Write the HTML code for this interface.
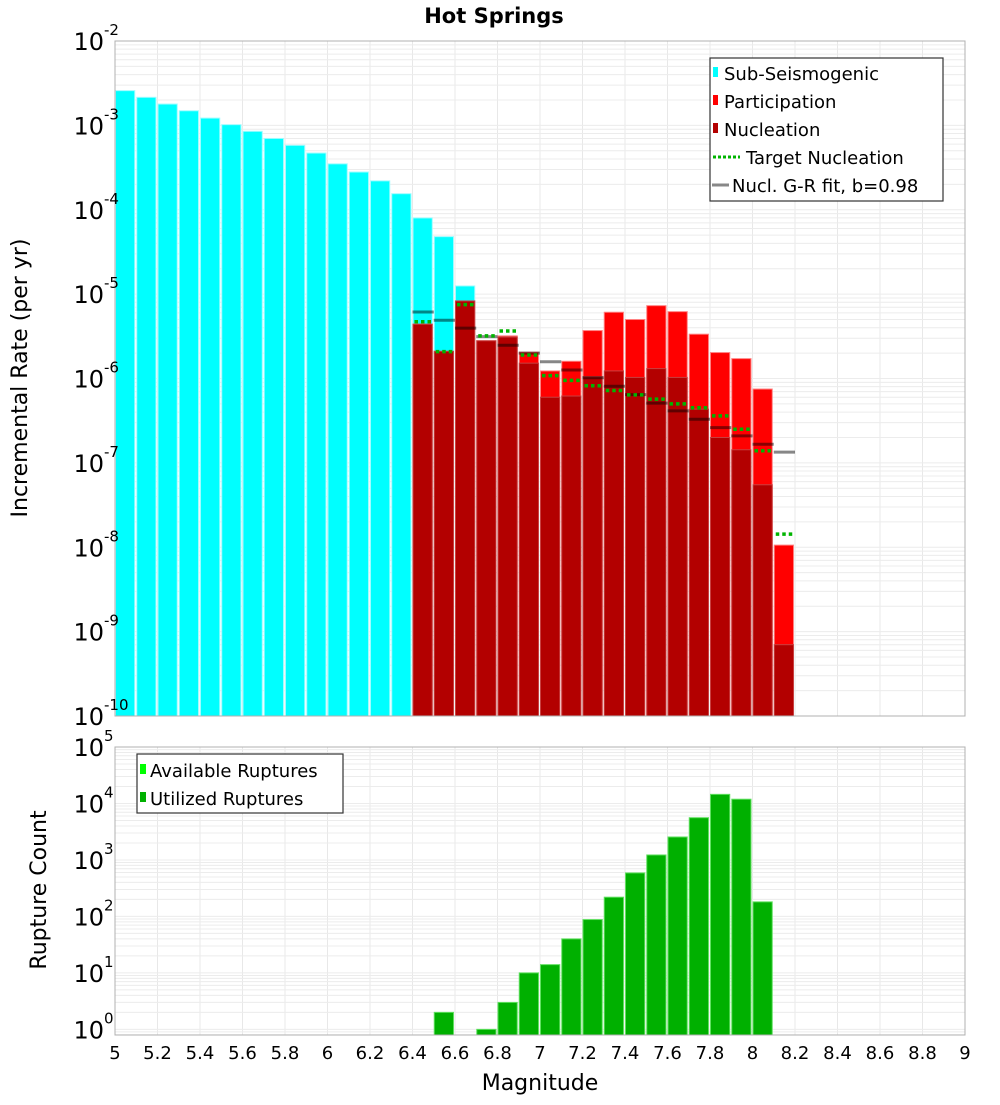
<!DOCTYPE html>
<html><head><meta charset="utf-8"><style>
body{margin:0;background:#fff;}
svg text{font-family:"DejaVu Sans","Liberation Sans",sans-serif;fill:#000;}
</style></head><body>
<svg id="chart" width="1000" height="1100" viewBox="0 0 1000 1100" xmlns="http://www.w3.org/2000/svg">
<rect width="1000" height="1100" fill="#fff"/>
<text x="494" y="23" text-anchor="middle" font-size="21" font-weight="bold">Hot Springs</text>
<g id="top-grid"></g><g id="top-bars"></g><g id="top-lines"></g>
<rect x="115" y="41" width="850" height="675" fill="none" stroke="#b0b0b0" stroke-width="1"/>
<g id="bot-grid"></g><g id="bot-bars"></g>
<rect x="115" y="747" width="850" height="288" fill="none" stroke="#b0b0b0" stroke-width="1"/>
<g id="axes-text"></g>
<text transform="translate(27,378) rotate(-90)" text-anchor="middle" font-size="22">Incremental Rate (per yr)</text>
<text transform="translate(46,890) rotate(-90)" text-anchor="middle" font-size="22">Rupture Count</text>
<text x="540" y="1090" text-anchor="middle" font-size="22">Magnitude</text>
<g>
<rect x="710" y="58" width="233" height="143" fill="#fff" stroke="#333" stroke-width="1.2"/>
<rect x="713" y="67" width="5" height="10" fill="#00ffff"/><text x="724" y="80" font-size="18">Sub-Seismogenic</text>
<rect x="713" y="95" width="5" height="10" fill="#ff0000"/><text x="724" y="108" font-size="18">Participation</text>
<rect x="713" y="123" width="5" height="10" fill="#b30000"/><text x="724" y="136" font-size="18">Nucleation</text>
<line x1="713" y1="157" x2="740" y2="157" stroke="#00b400" stroke-width="3" stroke-dasharray="3,2"/><text x="746" y="164" font-size="18">Target Nucleation</text>
<line x1="712" y1="185" x2="729" y2="185" stroke="#888" stroke-width="3"/><text x="732" y="192" font-size="18">Nucl. G-R fit, b=0.98</text>
</g>
<g>
<rect x="137" y="754" width="206" height="59" fill="#fff" stroke="#333" stroke-width="1.2"/>
<rect x="140" y="764" width="6" height="10" fill="#00ff00"/><text x="150" y="777" font-size="18">Available Ruptures</text>
<rect x="140" y="792" width="6" height="10" fill="#00b000"/><text x="150" y="805" font-size="18">Utilized Ruptures</text>
</g>
</svg>
<script>
const mags = [5.0,5.1,5.2,5.3,5.4,5.5,5.6,5.7,5.8,5.9,6.0,6.1,6.2,6.3,6.4,6.5,6.6,6.7,6.8,6.9,7.0,7.1,7.2,7.3,7.4,7.5,7.6,7.7,7.8,7.9,8.0,8.1];
const subSeis = [2.58e-3,2.15e-3,1.79e-3,1.49e-3,1.22e-3,1.02e-3,8.5e-4,7.0e-4,5.8e-4,4.7e-4,3.5e-4,2.8e-4,2.2e-4,1.55e-4,8.0e-5,4.8e-5,1.25e-5,0,0,0,0,0,0,0,0,0,0,0,0,0,0,0];
const participation = [0,0,0,0,0,0,0,0,0,0,0,0,0,0,4.4e-6,2.1e-6,8.3e-6,2.8e-6,3.2e-6,2.05e-6,1.23e-6,1.6e-6,3.7e-6,6.1e-6,5.0e-6,7.3e-6,6.2e-6,3.35e-6,2.03e-6,1.72e-6,7.5e-7,1.06e-8];
const nucleation = [0,0,0,0,0,0,0,0,0,0,0,0,0,0,4.4e-6,2.1e-6,8.3e-6,2.8e-6,3.1e-6,1.52e-6,6.0e-7,6.2e-7,1.05e-6,1.23e-6,1.03e-6,1.31e-6,1.03e-6,4.33e-7,2.0e-7,1.43e-7,5.5e-8,7.0e-10];
const targetNucl = [0,0,0,0,0,0,0,0,0,0,0,0,0,0,4.7e-6,2.08e-6,7.5e-6,3.2e-6,3.66e-6,1.9e-6,1.08e-6,9.5e-7,8.2e-7,7.2e-7,6.4e-7,5.7e-7,5.0e-7,4.5e-7,3.6e-7,2.5e-7,1.39e-7,1.43e-8];
const grFit = [0,0,0,0,0,0,0,0,0,0,0,0,0,0,6.15e-6,4.9e-6,3.95e-6,3.14e-6,2.48e-6,2.0e-6,1.58e-6,1.26e-6,1.02e-6,8.1e-7,6.45e-7,5.1e-7,4.13e-7,3.29e-7,2.62e-7,2.09e-7,1.66e-7,1.34e-7];
const ruptureCounts = [0,0,0,0,0,0,0,0,0,0,0,0,0,0,0,2,0,1,3,10,14,40,88,219,589,1225,2550,5600,14500,11900,181,0];
const xTicks = ["5","5.2","5.4","5.6","5.8","6","6.2","6.4","6.6","6.8","7","7.2","7.4","7.6","7.8","8","8.2","8.4","8.6","8.8","9"];
const topExps = [-2,-3,-4,-5,-6,-7,-8,-9,-10];
const botExps = [5,4,3,2,1,0];

const NS="http://www.w3.org/2000/svg";
function mk(parent,tag,attrs){const e=document.createElementNS(NS,tag);for(const k in attrs)e.setAttribute(k,attrs[k]);document.getElementById(parent).appendChild(e);return e;}
const X=m=>115+(m-5)*212.5;
const YT=v=>41+(-2-Math.log10(v))*84.375;
const YB=v=>747+(5-Math.log10(v))*(288/5.1);
const TOPB=716, BOTB=1035;

// grids
for(let i=0;i<=20;i++){const x=X(5+i*0.2);
 let l=mk('top-grid','line',{x1:x,x2:x,y1:41,y2:716,stroke:'#e8e8e8'});
 
 
 let l2=mk('bot-grid','line',{x1:x,x2:x,y1:747,y2:1035,stroke:'#e8e8e8'});
 
 }
for(let e=-10;e<-2;e++)for(let k=1;k<10;k++){const y=YT(k*Math.pow(10,e));
 let l=mk('top-grid','line',{x1:115,x2:965,y1:y,y2:y,stroke:'#ececec'});
 
 }
for(let e=-1;e<5;e++)for(let k=1;k<10;k++){const y=YB(k*Math.pow(10,e));if(y>1035||y<747)continue;
 let l=mk('bot-grid','line',{x1:115,x2:965,y1:y,y2:y,stroke:'#ececec'});
 
 }

function bar(g,m,v,Y,base,fill,stroke,name){if(!v)return;const x0=X(m)+0.5,x1=X(m+0.1)-1.5;const y=Math.max(Y(v),0);
 const r=mk(g,'rect',{x:x0,y:y,width:x1-x0,height:Math.max(base-y,0),fill:fill,stroke:stroke,'stroke-width':1});
 
 }
mags.forEach((m,i)=>bar('top-bars',m,subSeis[i],YT,TOPB,'#00ffff','#9ffcff','sub-seismogenic-bar'));
mags.forEach((m,i)=>bar('top-bars',m,participation[i],YT,TOPB,'#ff0000','#ff8080','participation-bar'));
mags.forEach((m,i)=>bar('top-bars',m,nucleation[i],YT,TOPB,'#b30000','#c84040','nucleation-bar'));
mags.forEach((m,i)=>{if(!grFit[i])return;const y=YT(grFit[i]);
 const l=mk('top-lines','line',{x1:X(m),x2:X(m+0.1),y1:y,y2:y,stroke:'rgba(0,0,0,0.47)','stroke-width':3});
 
 });
mags.forEach((m,i)=>{if(!targetNucl[i])return;const y=YT(targetNucl[i]);
 const l=mk('top-lines','line',{x1:X(m)+2,x2:X(m+0.1)-2,y1:y,y2:y,stroke:'#00b400','stroke-width':3.5,'stroke-dasharray':'3.5,3'});
 
 });
mags.forEach((m,i)=>bar('bot-bars',m,ruptureCounts[i],YB,BOTB,'#00b000','#60e060','utilized-ruptures-bar'));

// tick labels
function tick(y,exp,name){const t=mk('axes-text','text',{x:104,y:y+9,'text-anchor':'end','font-size':24});t.textContent='10';
 
 
 const s=mk('axes-text','text',{x:104,y:y-6,'font-size':15});s.textContent=String(exp);
 
 }
topExps.forEach(e=>tick(YT(Math.pow(10,e)),e,'top-y-tick'));
botExps.forEach(e=>tick(YB(Math.pow(10,e)),e,'bottom-y-tick'));
xTicks.forEach(s=>{const t=mk('axes-text','text',{x:X(parseFloat(s)),y:1059,'text-anchor':'middle','font-size':18});t.textContent=s;
 
 });
</script>
</body></html>
